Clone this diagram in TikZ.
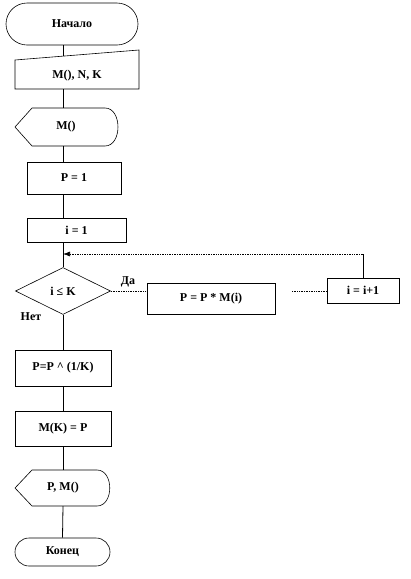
\documentclass[tikz,border=0pt]{standalone}
\usepackage{fontspec}
\setmainfont{Liberation Serif}
\usetikzlibrary{shapes.geometric, arrows.meta, calc}
\begin{document}
\begin{tikzpicture}[x=1pt,y=-1pt,
  every node/.style={font=\bfseries\fontsize{12}{14}\selectfont},
  box/.style={draw, line width=0.6pt, rectangle, inner sep=0pt},
  shapeline/.style={line width=0.6pt},
  line/.style={line width=0.8pt},
  dotline/.style={line width=0.7pt, densely dotted},
  lbl/.style={inner sep=0pt}]
\useasboundingbox (0,0) rectangle (411,579);

% start
\node[box, rounded corners=21pt, minimum width=132pt, minimum height=42pt] (start) at (72,24) {Начало};

% input M(), N, K
\draw[shapeline] (15,60) -- (139,50) -- (139,89) -- (15,89) -- cycle;
\node[lbl] (inp) at (77,76) {M(), N, K};
\coordinate (inpT) at (63,56.1);
\coordinate (inpB) at (63,89);

% display M()
\draw[shapeline] (15,127) -- (32,108) -- (105,108) .. controls (122.3,108) and (122.3,146) .. (105,146) -- (32,146) -- cycle;
\node[lbl] (out1) at (66,127) {M()};
\coordinate (out1T) at (63,108);
\coordinate (out1B) at (63,146);

% P = 1
\node[box, minimum width=94pt, minimum height=32pt] (p1) at (74,178) {P = 1};
% i = 1
\node[box, minimum width=99pt, minimum height=24pt] (i1) at (76.5,230) {i = 1};

% decision
\node[draw, shape=diamond, line width=0.6pt, inner sep=0pt, aspect=2,
      minimum width=95pt, minimum height=47pt] (d) at (63,291) {i ≤ K};
\node[lbl] (yes) at (128,282) {Да};
\node[lbl] (no) at (31,317) {Нет};

% loop body
\node[box, minimum width=128pt, minimum height=31pt] (pm) at (211,298.5) {P = P * M(i)};
\node[box, minimum width=72pt, minimum height=25pt] (inc) at (363,290.5) {i = i+1};

% after loop
\node[box, minimum width=96pt, minimum height=36pt] (pk) at (63,368) {P=P \textasciicircum\ (1/K)};
\node[box, minimum width=96pt, minimum height=35pt] (mk) at (63,428.5) {M(K) = P};

% display P, M()
\draw[shapeline] (15,488) -- (32,470) -- (97,470) .. controls (114,470) and (114,506) .. (97,506) -- (32,506) -- cycle;
\node[lbl] (out2) at (63,488) {P, M()};
\coordinate (out2T) at (63,470);
\coordinate (out2B) at (63,506);

% end
\node[box, rounded corners=14pt, minimum width=95pt, minimum height=28pt] (end) at (62.5,552) {Конец};

% spine connectors
\draw[line] (start.south -| d.center) -- (inpT);
\draw[line] (inpB) -- (out1T);
\draw[line] (out1B) -- (p1.north -| d.center);
\draw[line] (p1.south -| d.center) -- (i1.north -| d.center);
\draw[line] (i1.south -| d.center) -- (d.north);
\draw[line] (d.south) -- (pk.north);
\draw[line] (pk.south) -- (mk.north);
\draw[line] (mk.south) -- (out2T);
\draw[line] (out2B) -- (end.north);

% loop connectors
\coordinate (loopc) at (363,254);
\coordinate (join) at (63,254);
\coordinate (gap) at (292,291);
\draw[dotline] (d.east) -- (d.east -| pm.west);
\draw[dotline] (gap) -- (gap -| inc.west);
\draw[line] (inc.north) -- (loopc);
\draw[dotline, -{Latex[length=7pt,width=5pt]}] (loopc) -- (join);
\end{tikzpicture}
\end{document}
